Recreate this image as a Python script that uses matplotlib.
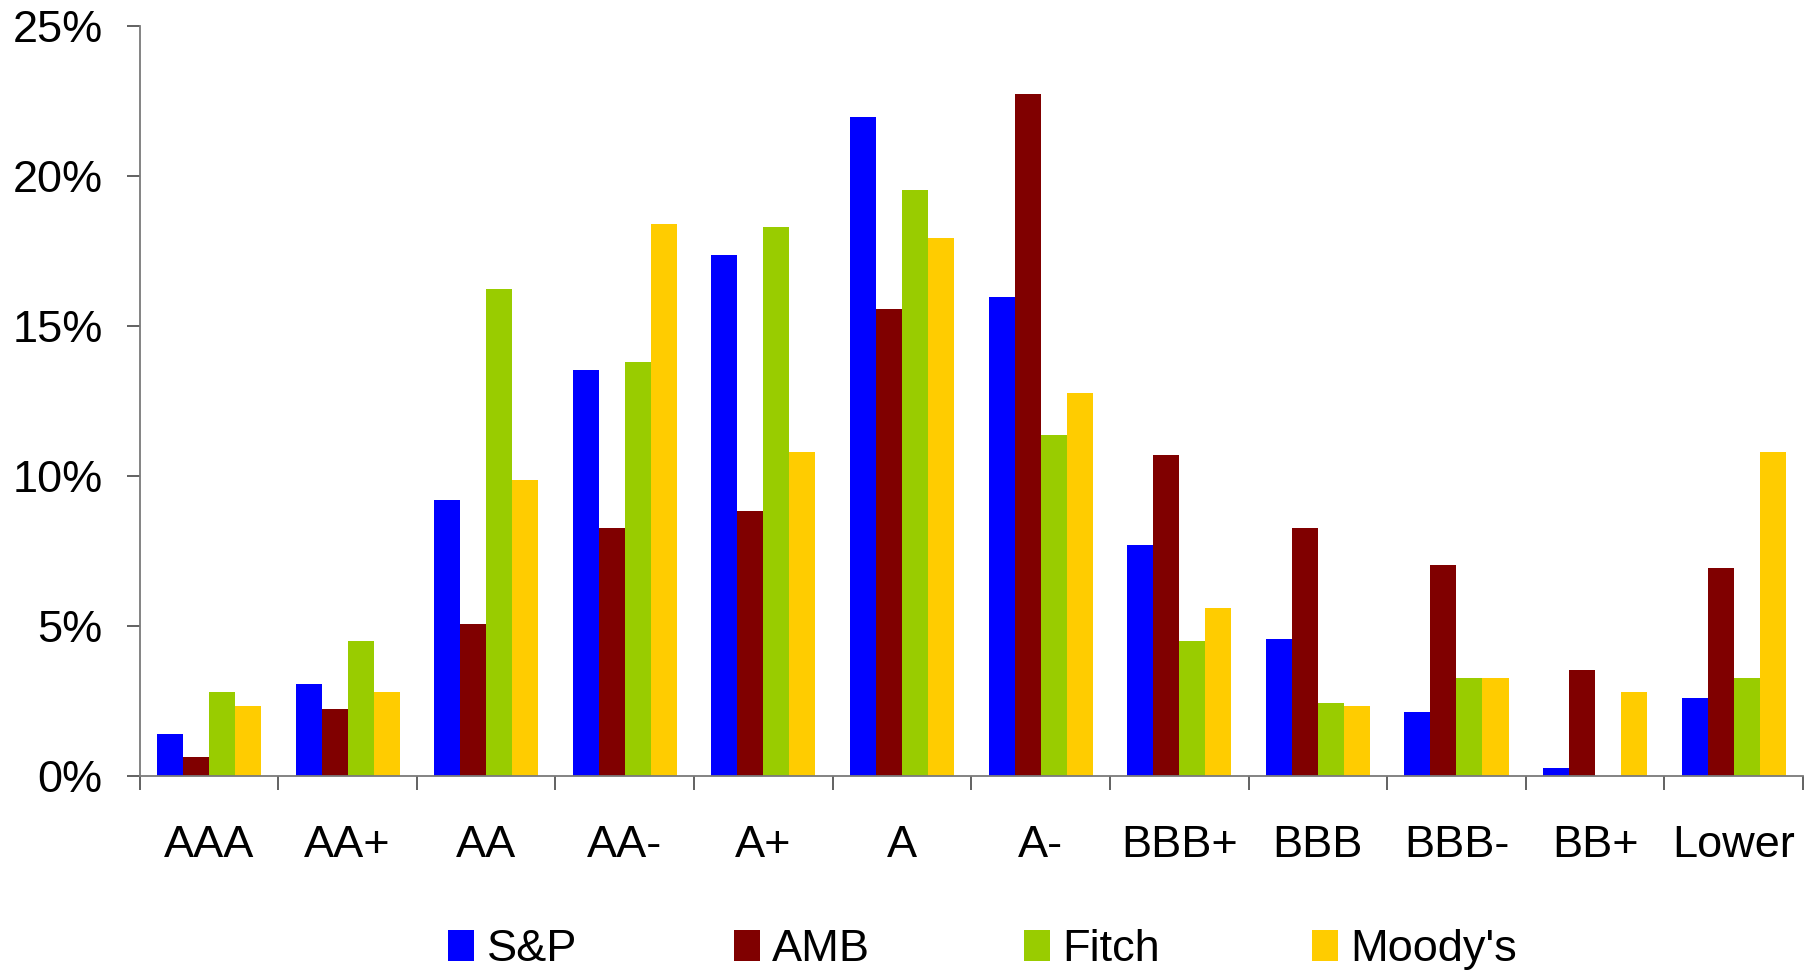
import matplotlib
matplotlib.use("Agg")
import matplotlib.pyplot as plt
import numpy as np
from matplotlib.ticker import FuncFormatter

# Rating distribution (% of companies) by agency
categories = ["AAA", "AA+", "AA", "AA-", "A+", "A", "A-", "BBB+", "BBB", "BBB-", "BB+", "Lower"]
sp = [1.40, 3.07, 9.20, 13.53, 17.38, 21.97, 15.97, 7.70, 4.57, 2.13, 0.27, 2.60]
amb = [0.64, 2.23, 5.07, 8.27, 8.83, 15.57, 22.73, 10.70, 8.27, 7.03, 3.53, 6.93]
fitch = [2.80, 4.50, 16.23, 13.80, 18.30, 19.53, 11.37, 4.50, 2.43, 3.27, 0.00, 3.27]
moodys = [2.33, 2.80, 9.87, 18.40, 10.80, 17.93, 12.77, 5.60, 2.33, 3.27, 2.80, 10.80]
series_names = ["S&P", "AMB", "Fitch", "Moody's"]
y_ticks = [0, 5, 10, 15, 20, 25]

colors = ["#0000FF", "#800000", "#99CC00", "#FFCC00"]
series = [sp, amb, fitch, moodys]

plt.rcParams["font.family"] = ["Liberation Sans", "DejaVu Sans"]
FS = 32.5

fig = plt.figure(figsize=(18.09, 9.72), dpi=100)
ax = fig.add_axes([0.0772, 0.2016, 0.9195, 0.7717])

x = np.arange(len(categories)) + 0.5
w = 0.1876
containers = []
for i, (vals, col) in enumerate(zip(series, colors)):
    c = ax.bar(x + (i - 1.5) * w, vals, width=w, color=col, linewidth=0)
    containers.append(c)

ax.set_xlim(0, len(categories))
ax.set_ylim(0, 25)
ax.set_yticks(y_ticks)
ax.yaxis.set_major_formatter(FuncFormatter(lambda v, p: f"{v:.0f}%"))

# Category boundary ticks (major) and centred labels (minor)
ax.set_xticks(np.arange(len(categories) + 1))
ax.set_xticklabels([])
ax.set_xticks(x, minor=True)
ax.set_xticklabels(categories, minor=True)

axis_col = "#7a7a7a"
for side in ["top", "right"]:
    ax.spines[side].set_visible(False)
for side in ["left", "bottom"]:
    ax.spines[side].set_color(axis_col)
    ax.spines[side].set_linewidth(1.3)

ax.tick_params(axis="y", direction="out", length=9.5, width=1.3, color="#555555",
               labelsize=FS, pad=17)
ax.tick_params(axis="x", which="major", direction="out", length=10, width=1.3,
               color="#555555")
ax.tick_params(axis="x", which="minor", length=0, labelsize=FS, pad=35.5)

# One legend entry per agency, evenly spaced along the bottom
legend_x = [0.2477, 0.4055, 0.5658, 0.7250]
for cont, name, lx in zip(containers, series_names, legend_x):
    fig.legend([cont], [name], loc="center left", bbox_to_anchor=(lx, 0.023),
               frameon=False, fontsize=FS, handlelength=0.58, handleheight=0.68,
               handletextpad=0.28, borderpad=0, borderaxespad=0)

fig.savefig("out.png", dpi=100, facecolor="white")
